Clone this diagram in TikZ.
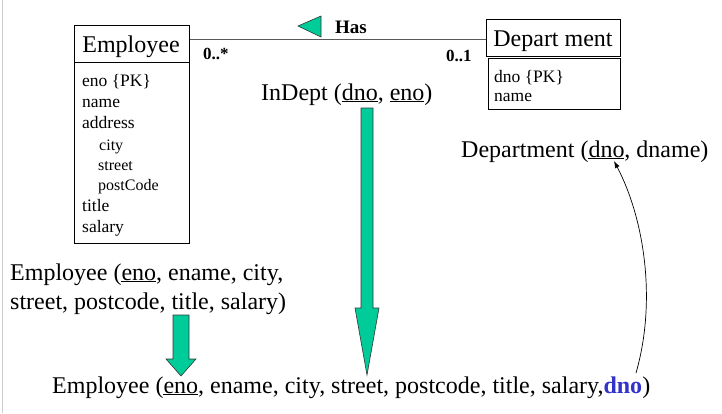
\documentclass[tikz,border=0pt]{standalone}
\usepackage{fontspec}
\setmainfont{Liberation Serif}
\usetikzlibrary{arrows.meta}
\definecolor{arrowgreen}{HTML}{00CC99}
\definecolor{fkblue}{HTML}{3333CC}
\begin{document}
\begin{tikzpicture}[x=1pt,y=-1pt,
  big/.style={font=\fontsize{24}{29}\selectfont, inner sep=0pt, anchor=base west},
  attr/.style={font=\fontsize{17.5}{21}\selectfont, inner sep=0pt, anchor=base west},
  subattr/.style={font=\fontsize{16}{19}\selectfont, inner sep=0pt, anchor=base west},
  mult/.style={font=\fontsize{17}{20}\selectfont\bfseries, inner sep=0pt, anchor=base west},
  box/.style={draw, line width=0.9pt, inner sep=0pt, anchor=north west},
  greenarrow/.style={fill=arrowgreen, draw=black!80, line width=0.6pt},
  conn/.style={draw=black!65, line width=0.9pt},
  fk/.style={draw=black, line width=0.7pt, -{Latex[length=7pt,width=5pt]}}]
\useasboundingbox (0,0) rectangle (722,413);
% faint left edge line
\draw[black!20, line width=0.8pt] (2,0) -- (2,413);

% Employee class
\node[box, minimum width=115, minimum height=37] (emphdr) at (74,25) {};
\node[big, anchor=base] (emplbl) at (131,52) {Employee};
\node[box, minimum width=115, minimum height=181] (empattr) at (74,62) {};
\node[attr] (a1) at (82,86) {eno \{PK\}};
\node[attr] (a2) at (82,107) {name};
\node[attr] (a3) at (82,128) {address};
\node[subattr] (a4) at (99,150) {city};
\node[subattr] (a5) at (98,170) {street};
\node[subattr] (a6) at (98,190) {postCode};
\node[attr] (a7) at (82,211) {title};
\node[attr] (a8) at (82,232) {salary};

% Department class
\node[box, minimum width=134, minimum height=37] (depthdr) at (486,19) {};
\node[big, anchor=base] (deptlbl) at (553,46) {Depart ment};
\node[box, minimum width=132, minimum height=51] (deptattr) at (488,58) {};
\node[attr] (d1) at (494,82) {dno \{PK\}};
\node[attr] (d2) at (494,101) {name};

% association
\coordinate (assocY) at (0,39);
\draw[conn] (emphdr.east |- assocY) -- (depthdr.west |- assocY);
\draw[greenarrow] (298,26) -- (321,16) -- (321,37) -- cycle;
\node[mult, font=\fontsize{19}{22}\selectfont\bfseries] (has) at (335,33) {Has};
\node[mult] (m1) at (203,59) {0..*};
\node[mult] (m2) at (446,61) {0..1};

% relations
\node[big] (indept) at (261,100) {InDept (\underline{dno}, \underline{eno})};
\node[big] (deptrel) at (461,157) {Department (\underline{dno}, dname)};
\node[big] (emprel1) at (10,280) {Employee (\underline{eno}, ename, city,};
\node[big] (emprel2) at (10,309) {street, postcode, title, salary)};
\node[big] (final) at (52,393) {Employee (\underline{eno}, ename, city, street, postcode, title, salary,\textcolor{fkblue}{\bfseries dno})};

% green arrows
\draw[greenarrow] (361,108) -- (373,108) -- (373,308) -- (379,308) -- (367,375) -- (355,308) -- (361,308) -- cycle;
\draw[greenarrow] (173,315) -- (189,315) -- (189,359) -- (196,359) -- (181,376) -- (166,359) -- (173,359) -- cycle;

% foreign key arrow
\coordinate (fkstart) at (636,373);
\coordinate (pkend) at (614,161);
\draw[fk] (fkstart) .. controls (657,300) and (644,218) .. (pkend);
\end{tikzpicture}
\end{document}
